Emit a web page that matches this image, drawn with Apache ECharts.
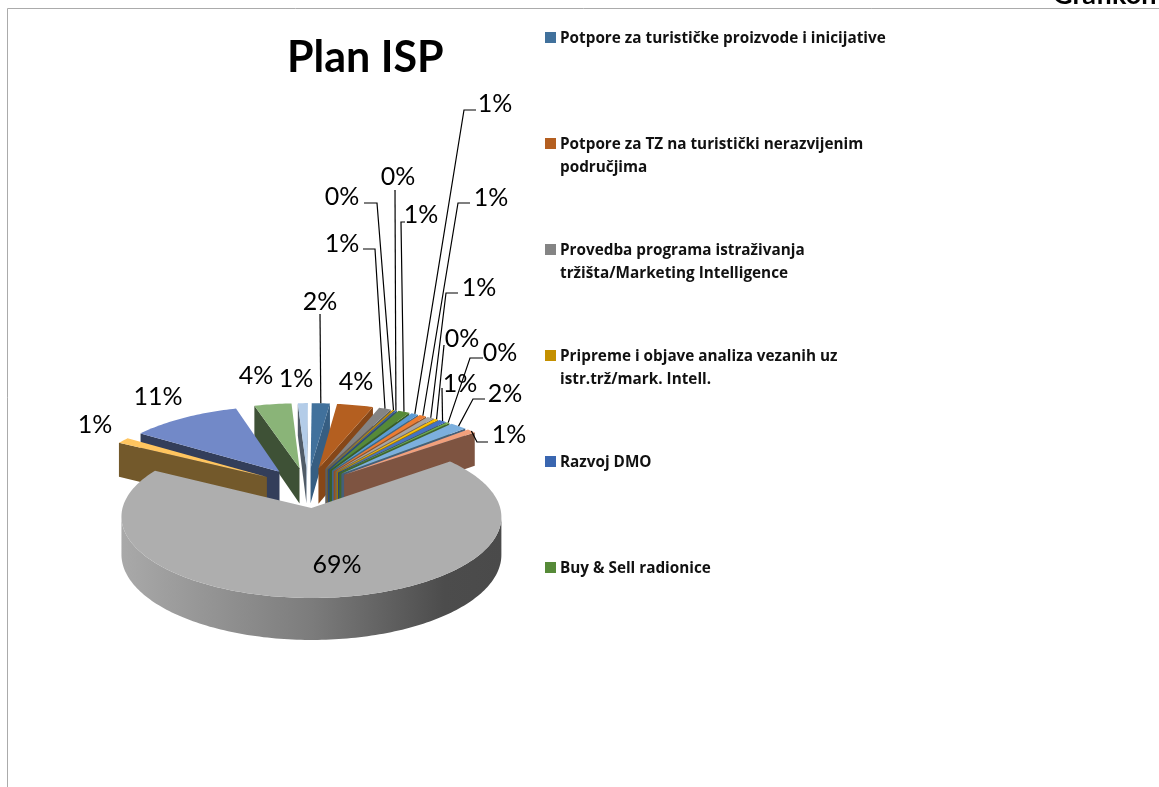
<!DOCTYPE html>
<html>
<head>
<meta charset="utf-8">
<title>Plan ISP</title>
<script src="https://cdn.jsdelivr.net/npm/echarts@6/dist/echarts.min.js"></script>
<style>
  html, body { margin: 0; padding: 0; background: #fff; }
  #chart { width: 1159px; height: 787px; }
</style>
</head>
<body>
<div id="chart"></div>
<script>
// values, percent of the plan, clockwise from 12 o'clock
const sliceValues = [1.8, 3.6, 1.2, 0.2, 0.2, 1.15, 0.7, 0.7, 0.7, 0.35, 0.75, 0.3, 1.7, 0.9, 68.8, 1.3, 11.0, 3.7, 1.0]
const sliceColors = [
  '#41719C', '#B45F20', '#848484', '#C49000', '#3A66B0', '#568A38',
  '#5B9BD5', '#ED7D31', '#A5A5A5', '#FFC000', '#4472C4', '#70AD47',
  '#7CAFDD', '#F1A07C', '#AEAEAE', '#FFC55F', '#7289C8', '#8AB478', '#B3CCE8'
]
const legendNames = [
  'Potpore za turističke proizvode i inicijative',
  'Potpore za TZ na turistički nerazvijenim\npodručjima',
  'Provedba programa istraživanja\ntržišta/Marketing Intelligence',
  'Pripreme i objave analiza vezanih uz\nistr.trž/mark. Intell.',
  'Razvoj DMO',
  'Buy & Sell radionice'
]

// where each percent text sits, and the bend of its leader line (none = no leader)
const labelPlaces = [
  { at: [320, 302], line: [[320, 314]] },
  { at: [356, 382] },
  { at: [342, 244], line: [[363, 249], [375, 249]] },
  { at: [342, 197], line: [[364, 203], [377, 203]] },
  { at: [398, 177], line: [[395, 190]] },
  { at: [421, 215], line: [[405, 222], [401, 222]] },
  { at: [495, 104], line: [[476, 110], [464, 110]] },
  { at: [491, 198], line: [[470, 203], [458, 203]] },
  { at: [479, 288], line: [[458, 293], [446, 293]] },
  { at: [462, 339], line: [[444, 345]] },
  { at: [460, 384], line: [[442, 388]] },
  { at: [500, 353], line: [[483, 358], [470, 358]] },
  { at: [505, 394], line: [[485, 399], [473, 399]] },
  { at: [509, 435], line: [[488, 442], [477, 442]] },
  { at: [337, 565] },
  { at: [95, 425] },
  { at: [158, 397] },
  { at: [256, 376] },
  { at: [296, 379] }
]

// projection of the tilted pie, fitted to the picture
const PIE = { x: 307.5, y: 487.4, a: 183.5, b: 75.7, k: 0.107, explode: 0.264, height: 36.3, rotate: 0.0087 }
const total = sliceValues.reduce((s, v) => s + v, 0)

function project(u, v) {
  let s = 1 / (1 + PIE.k * v)
  return { x: PIE.x + PIE.a * u * s, y: PIE.y - PIE.b * v * s, drop: PIE.height * s }
}

function buildSlice(startPct, endPct) {
  let t0 = startPct / total * Math.PI * 2 + PIE.rotate
  let t1 = endPct / total * Math.PI * 2 + PIE.rotate
  let mid = (t0 + t1) / 2
  let ou = PIE.explode * Math.sin(mid)
  let ov = PIE.explode * Math.cos(mid)
  let apex = project(ou, ov)
  let arc = []
  let steps = Math.max(2, Math.ceil((t1 - t0) / 0.02))
  for (let i = 0; i <= steps; i++) {
    let t = t0 + (t1 - t0) * i / steps
    arc.push(project(ou + Math.sin(t), ov + Math.cos(t)))
  }
  let tip = project(ou + Math.sin(mid), ov + Math.cos(mid))
  return { apex, arc, tip, t0, t1 }
}

function wall(a, b) {
  return [[a.x, a.y], [b.x, b.y], [b.x, b.y + b.drop], [a.x, a.y + a.drop]]
}

function darken(color, amount) {
  let c = echarts.color.parse(color)
  let f = 1 - amount
  return 'rgb(' + Math.round(c[0] * f) + ',' + Math.round(c[1] * f) + ',' + Math.round(c[2] * f) + ')'
}

// cut faces get darker the more they turn away from the light
function cutShade(normalDeg) {
  let n = (normalDeg + 360) % 360
  if (n < 150) return Math.min(0.5, 0.15 + (Math.max(n, 95) - 95) / 50 * 0.35)
  return 0.55
}

function renderSlice(params, api) {
  let idx = api.value(2)
  let geo = buildSlice(api.value(0), api.value(1))
  let color = sliceColors[idx]
  let children = []
  let deg = 180 / Math.PI

  // outer rim: only the part which runs right to left on screen faces us
  let rim = geo.arc.filter((p, i, all) => (i > 0 && p.x < all[i - 1].x) || (i < all.length - 1 && all[i + 1].x < p.x))
  if (rim.length > 1) {
    let pts = rim.map(p => [p.x, p.y]).concat(rim.slice().reverse().map(p => [p.x, p.y + p.drop]))
    children.push({
      type: 'polygon',
      shape: { points: pts },
      style: {
        fill: new echarts.graphic.LinearGradient(0, 0, 1, 0, [
          { offset: 0, color: '#A9A9A9' },
          { offset: 0.5, color: '#7C7C7C' },
          { offset: 0.85, color: '#4C4C4C' },
          { offset: 1, color: '#4A4A4A' }
        ])
      }
    })
  }
  // the two cut faces
  let first = geo.arc[0]
  let last = geo.arc[geo.arc.length - 1]
  if (first.x < geo.apex.x) {
    children.push({
      type: 'polygon',
      shape: { points: wall(geo.apex, first) },
      style: { fill: darken(color, cutShade(geo.t0 * deg - 90)) }
    })
  }
  if (last.x > geo.apex.x) {
    children.push({
      type: 'polygon',
      shape: { points: wall(last, geo.apex) },
      style: { fill: darken(color, cutShade(geo.t1 * deg + 90)) }
    })
  }
  // top face
  children.push({
    type: 'polygon',
    shape: { points: [[geo.apex.x, geo.apex.y]].concat(geo.arc.map(p => [p.x, p.y])) },
    style: { fill: color }
  })

  // percent text and its leader
  let place = labelPlaces[idx]
  if (place.line) {
    children.push({
      type: 'polyline',
      z2: 50,
      shape: { points: place.line.concat([[geo.tip.x, geo.tip.y]]) },
      style: { stroke: '#000', lineWidth: 1.2, fill: null }
    })
  }
  children.push({
    type: 'text',
    z2: 60,
    style: {
      text: Math.round(sliceValues[idx] / total * 100) + '%',
      x: place.at[0],
      y: place.at[1],
      align: 'center',
      verticalAlign: 'middle',
      fontFamily: 'Lato',
      fontSize: 25,
      fill: '#000'
    }
  })
  return { type: 'group', children }
}

// rows are [start, end, index], far slices first so near ones paint over them
let rows = []
let run = 0
sliceValues.forEach((v, i) => {
  rows.push([run, run + v, i])
  run += v
})
rows.sort((p, q) => Math.cos((q[0] + q[1]) / total * Math.PI) - Math.cos((p[0] + p[1]) / total * Math.PI))

// legend squares line up with the first text line, so it is drawn by hand
let legendGraphics = []
legendNames.forEach((name, i) => {
  let top = 32 + i * 106
  legendGraphics.push({
    type: 'rect',
    left: 545,
    top: top,
    shape: { width: 11, height: 11 },
    style: { fill: sliceColors[i] }
  })
  legendGraphics.push({
    type: 'text',
    left: 560,
    top: top - 5,
    style: {
      text: name,
      fontFamily: 'Open Sans',
      fontWeight: 'bold',
      fontSize: 15.3,
      lineHeight: 23,
      fill: '#111'
    }
  })
})

let myChart = echarts.init(document.getElementById('chart'))
myChart.setOption({
  animation: false,
  backgroundColor: '#fff',
  title: {
    text: 'Plan ISP',
    left: 287,
    top: 37,
    padding: 0,
    textStyle: { fontFamily: 'Lato', fontWeight: 'bold', fontSize: 43, color: '#000' }
  },
  graphic: legendGraphics.concat([
    { type: 'line', shape: { x1: 7.5, y1: 8.5, x2: 1159, y2: 8.5 }, style: { stroke: '#ABABAB', lineWidth: 1 } },
    { type: 'line', shape: { x1: 7.5, y1: 8.5, x2: 7.5, y2: 787 }, style: { stroke: '#ABABAB', lineWidth: 1 } },
    {
      type: 'text',
      x: 1053,
      y: -18,
      style: { text: 'Grafikon', fontFamily: 'Lato', fontWeight: 'bold', fontSize: 27, fill: '#000' }
    }
  ]),
  series: [
    {
      type: 'custom',
      coordinateSystem: 'none',
      silent: true,
      clip: false,
      renderItem: renderSlice,
      data: rows
    }
  ]
})
</script>
</body>
</html>
